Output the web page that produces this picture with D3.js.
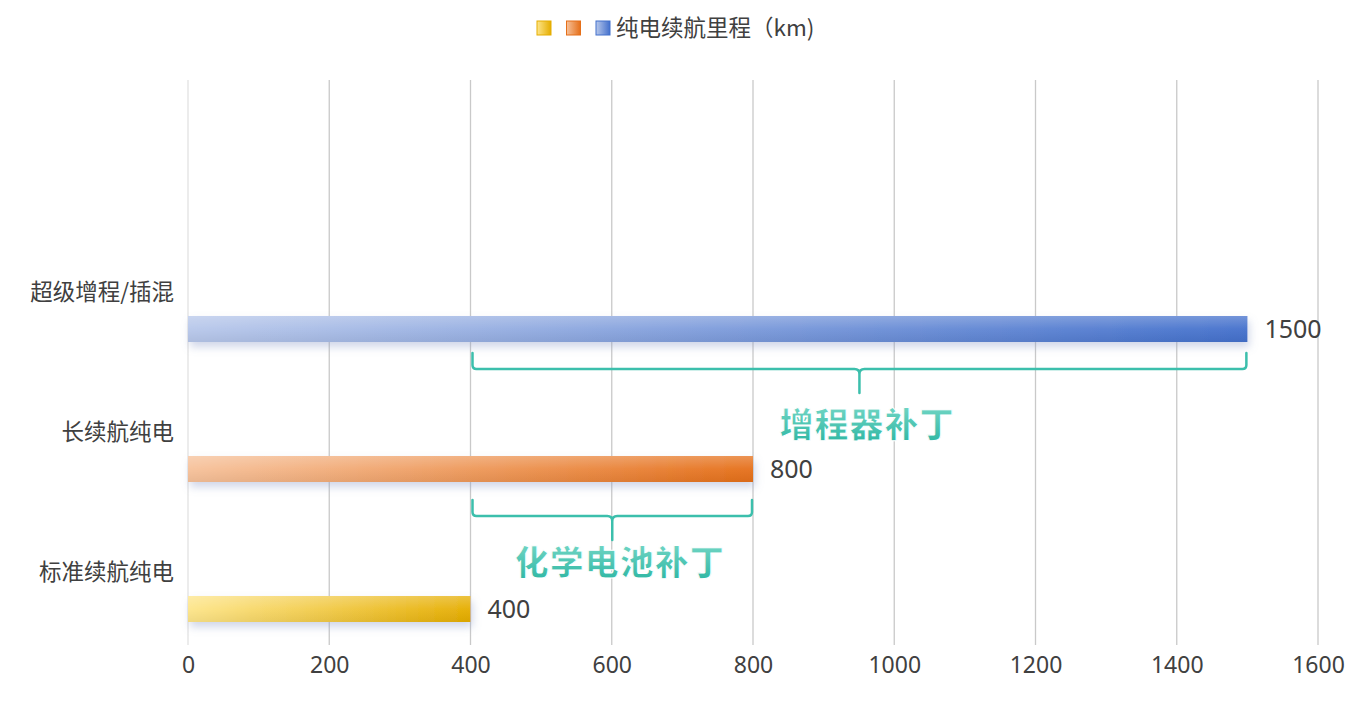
<!DOCTYPE html>
<html>
<head>
<meta charset="utf-8">
<script src="https://cdn.jsdelivr.net/npm/d3@7"></script>
<style>
  body { margin: 0; background: #fff; }
  text { font-family: "Noto Sans", "Noto Sans CJK SC", sans-serif; }
</style>
</head>
<body>
<div id="chart"></div>
<script>
const width = 1357;
const height = 708;

// data
const categories = ["标准续航纯电", "长续航纯电", "超级增程/插混"];
const rangeKm = [400, 800, 1500];
const seriesName = "纯电续航里程（km)";
const xTicks = [0, 200, 400, 600, 800, 1000, 1200, 1400, 1600];
const braces = [
  { cat: "超级增程/插混", from: 400, to: 1500, label: "增程器补丁" },
  { cat: "长续航纯电", from: 400, to: 800, label: "化学电池补丁" }
];
const braceGap = [11, 18];
const labelGap = [84, 75];

// colours per bar: [light, dark]
const barColors = [
  ["#fde58a", "#e5ad00"],
  ["#f6c19a", "#e56f19"],
  ["#b7c7ea", "#4370cc"]
];
const teal = "#3cbfac";

const x = d3.scaleLinear().domain([0, 1600]).range([188, 1318]);
const y = d3.scaleBand().domain(categories).range([642, 222]);

const svg = d3.select('#chart').append('svg')
    .attr('width', width)
    .attr('height', height);

const defs = svg.append('defs');

barColors.forEach(function (c, i) {
  const g = defs.append('linearGradient')
      .attr('id', 'bar' + i)
      .attr('x1', '0%').attr('x2', '100%')
      .attr('y1', '0%').attr('y2', '0%');
  g.append('stop').attr('offset', '0%').attr('stop-color', c[0]);
  g.append('stop').attr('offset', '100%').attr('stop-color', c[1]);
  // glossy top highlight
  const h = defs.append('linearGradient')
      .attr('id', 'gloss' + i)
      .attr('x1', '0%').attr('x2', '0%')
      .attr('y1', '0%').attr('y2', '100%');
  h.append('stop').attr('offset', '0%').attr('stop-color', '#fff').attr('stop-opacity', 0.25);
  h.append('stop').attr('offset', '50%').attr('stop-color', '#fff').attr('stop-opacity', 0.05);
  h.append('stop').attr('offset', '100%').attr('stop-color', '#000').attr('stop-opacity', 0.05);
});

const shadow = defs.append('filter').attr('id', 'shadow')
    .attr('x', '-5%').attr('y', '-50%').attr('width', '110%').attr('height', '220%');
shadow.append('feDropShadow')
    .attr('dx', 2).attr('dy', 5).attr('stdDeviation', 4)
    .attr('flood-color', '#8a9ac8').attr('flood-opacity', 0.4);

const tg = defs.append('linearGradient').attr('id', 'tealText')
    .attr('x1', '0%').attr('x2', '0%').attr('y1', '0%').attr('y2', '100%');
tg.append('stop').attr('offset', '0%').attr('stop-color', '#7fdccb');
tg.append('stop').attr('offset', '100%').attr('stop-color', '#27b39f');

// gridlines
svg.append('g').selectAll('line')
    .data(xTicks)
    .enter().append('line')
    .attr('x1', d => x(d)).attr('x2', d => x(d))
    .attr('y1', 80).attr('y2', 645)
    .attr('stroke', d => d === 0 ? '#e2e2e2' : '#c9c9c9')
    .attr('stroke-width', 1.3);

// x axis labels
const xAxis = d3.axisBottom(x).tickValues(xTicks).tickFormat(d3.format('d'))
    .tickSize(0).tickPadding(0);
const ax = svg.append('g')
    .attr('transform', 'translate(0,657)')
    .call(xAxis);
ax.select('.domain').remove();
ax.selectAll('text')
    .attr('font-size', 23)
    .attr('fill', '#404040')
    .attr('dy', '0.71em')
    .style('font-family', '"Noto Sans", sans-serif');

// category labels
svg.append('g').selectAll('text')
    .data(categories)
    .enter().append('text')
    .attr('x', 174)
    .attr('y', d => y(d) + y.bandwidth() / 2)
    .attr('dy', '0.35em')
    .attr('text-anchor', 'end')
    .attr('font-size', 22.5)
    .attr('fill', '#404040')
    .style('font-family', '"Noto Sans CJK SC", sans-serif')
    .text(d => d);

// bars
const barOffset = 24;
const barH = 26;
const bars = svg.append('g').selectAll('g')
    .data(categories)
    .enter().append('g');

bars.append('rect')
    .attr('x', x(0))
    .attr('y', d => y(d) + y.bandwidth() / 2 + barOffset)
    .attr('width', (d, i) => x(rangeKm[i]) - x(0))
    .attr('height', barH)
    .attr('fill', (d, i) => 'url(#bar' + i + ')')
    .attr('filter', 'url(#shadow)');

bars.append('rect')
    .attr('x', x(0))
    .attr('y', d => y(d) + y.bandwidth() / 2 + barOffset)
    .attr('width', (d, i) => x(rangeKm[i]) - x(0))
    .attr('height', barH)
    .attr('fill', (d, i) => 'url(#gloss' + i + ')');

bars.append('text')
    .attr('x', (d, i) => x(rangeKm[i]) + 17)
    .attr('y', d => y(d) + y.bandwidth() / 2 + barOffset + barH / 2)
    .attr('dy', '0.35em')
    .attr('font-size', 25)
    .attr('fill', '#404040')
    .text((d, i) => rangeKm[i]);

// braces
function bracePath(x0, x1, yTop) {
  const yMid = yTop + 16;
  const cx = (x0 + x1) / 2;
  const r = 4;
  return 'M' + x0 + ',' + yTop +
    ' L' + x0 + ',' + (yMid - r) +
    ' Q' + x0 + ',' + yMid + ' ' + (x0 + r) + ',' + yMid +
    ' L' + (cx - 5) + ',' + yMid +
    ' Q' + cx + ',' + yMid + ' ' + cx + ',' + (yMid + 5) +
    ' L' + cx + ',' + (yMid + 24) +
    ' M' + cx + ',' + (yMid + 5) +
    ' Q' + cx + ',' + yMid + ' ' + (cx + 5) + ',' + yMid +
    ' L' + (x1 - r) + ',' + yMid +
    ' Q' + x1 + ',' + yMid + ' ' + x1 + ',' + (yMid - r) +
    ' L' + x1 + ',' + yTop;
}

const br = svg.append('g').selectAll('g')
    .data(braces)
    .enter().append('g');

br.append('path')
    .attr('d', (d, i) => bracePath(x(d.from) + 2, x(d.to) - 1,
        y(d.cat) + y.bandwidth() / 2 + barOffset + barH + braceGap[i]))
    .attr('fill', 'none')
    .attr('stroke', teal)
    .attr('stroke-width', 2.5)
    .attr('stroke-linecap', 'round');

br.append('text')
    .attr('x', d => (x(d.from) + x(d.to)) / 2 + 8)
    .attr('y', (d, i) => y(d.cat) + y.bandwidth() / 2 + barOffset + barH + braceGap[i] + labelGap[i])
    .attr('text-anchor', 'middle')
    .attr('font-size', 34)
    .attr('font-weight', 900)
    .attr('fill', 'url(#tealText)')
    .attr('stroke', '#fff')
    .attr('stroke-width', 1)
    .attr('letter-spacing', 1)
    .style('font-family', '"Noto Sans CJK SC", sans-serif')
    .text(d => d.label);

// legend
const legend = svg.append('g');
legend.selectAll('rect')
    .data(barColors)
    .enter().append('rect')
    .attr('x', (d, i) => 537 + i * 29.5)
    .attr('y', 21)
    .attr('width', 14)
    .attr('height', 14)
    .attr('fill', (d, i) => 'url(#bar' + i + ')')
    .attr('stroke', d => d[1])
    .attr('stroke-width', 1);

legend.append('text')
    .attr('x', 616)
    .attr('y', 28)
    .attr('dy', '0.35em')
    .attr('font-size', 22.5)
    .attr('fill', '#404040')
    .style('font-family', '"Noto Sans CJK SC", sans-serif')
    .text(seriesName);
</script>
</body>
</html>
